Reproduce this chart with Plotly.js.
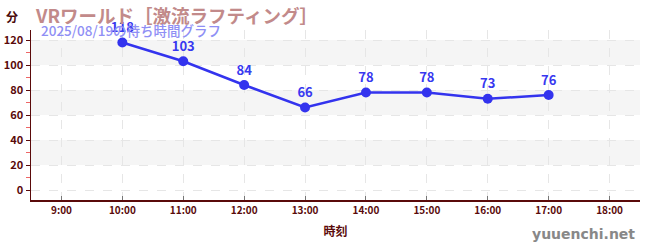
<!DOCTYPE html>
<html><head><meta charset="utf-8">
<script src="https://cdn.plot.ly/plotly-3.0.1.min.js"></script>
<style>html,body{margin:0;padding:0;background:#fff}#c{width:650px;height:250px}</style>
</head><body><div id="c"></div>
<script>
var times = [10, 11, 12, 13, 14, 15, 16, 17];
var waits = [118, 103, 84, 66, 78, 78, 73, 76];
var xTickVals = [9, 10, 11, 12, 13, 14, 15, 16, 17, 18];
var xTickText = ["9:00","10:00","11:00","12:00","13:00","14:00","15:00","16:00","17:00","18:00"];
var yTickVals = [0, 20, 40, 60, 80, 100, 120];
var yMinorVals = [10, 30, 50, 70, 90, 110];
var titleText = "VRワールド［激流ラフティング］";
var subtitleText = "2025/08/19の待ち時間グラフ";

var font = "Noto Sans CJK JP, sans-serif";
var shapes = [];
for (var i = 1; i + 1 < yTickVals.length; i += 2) {
  shapes.push({type:'rect', xref:'paper', yref:'y', x0:0, x1:1, y0:yTickVals[i], y1:yTickVals[i+1],
    fillcolor:'#f5f5f5', line:{width:0}, layer:'below'});
}

var trace = {
  x: times, y: waits, type:'scatter', mode:'lines+markers+text',
  text: waits.map(String), textposition:'top center',
  textfont:{family:font, size:13, color:'#3838f0', weight:700},
  line:{color:'#3333ee', width:2.5},
  marker:{color:'#3333ee', size:10},
  cliponaxis:false, hoverinfo:'none'
};

var layout = {
  width:650, height:250,
  margin:{l:31, r:10, t:30, b:50},
  paper_bgcolor:'#fff', plot_bgcolor:'#fff',
  showlegend:false,
  shapes: shapes,
  xaxis:{
    range:[8.5, 18.5], tickvals:xTickVals, ticktext:xTickText,
    showgrid:true, gridcolor:'#e6e6e6', griddash:'dash', gridwidth:1,
    zeroline:false, showline:true, linecolor:'#5a0a0a', linewidth:1.5,
    ticks:'inside', ticklen:4, tickcolor:'#777',
    tickfont:{family:font, size:10, color:'#5a0a0a', weight:700},
    title:{text:'時刻', font:{family:font, size:12, color:'#5a0a0a', weight:700}, standoff:12}
  },
  yaxis:{
    range:[-8, 128], tickvals:yTickVals,
    showgrid:true, gridcolor:'#e6e6e6', griddash:'dash', gridwidth:1,
    zeroline:false, showline:true, linecolor:'#5a0a0a', linewidth:1.5,
    ticks:'outside', ticklen:4, tickcolor:'#5a0a0a',
    minor:{tickvals:yMinorVals, ticks:'outside', ticklen:4, tickcolor:'#ee6666', showgrid:false},
    tickfont:{family:font, size:11, color:'#5a0a0a', weight:700}
  },
  annotations:[
    {text:'分', xref:'paper', yref:'paper', x:-0.045, y:1.08, xanchor:'left', yanchor:'middle', showarrow:false,
      font:{family:font, size:12, color:'#4a0a0a', weight:700}},
    {text:titleText, xref:'paper', yref:'paper', x:0.004, y:1.09, xanchor:'left', yanchor:'middle', showarrow:false,
      font:{family:font, size:18.5, color:'#c28a8a', weight:700}},
    {text:subtitleText, xref:'paper', yref:'paper', x:0.013, y:0.998, xanchor:'left', yanchor:'middle', showarrow:false,
      font:{family:font, size:13.5, color:'#8f8ff5', weight:500}},
    {text:'yuuenchi.net', xref:'paper', yref:'paper', x:0.995, y:-0.2, xanchor:'right', yanchor:'middle', showarrow:false,
      font:{family:'DejaVu Sans, sans-serif', size:14, color:'#888', weight:700}}
  ]
};
Plotly.newPlot('c', [trace], layout, {displayModeBar:false, staticPlot:true});
</script></body></html>
